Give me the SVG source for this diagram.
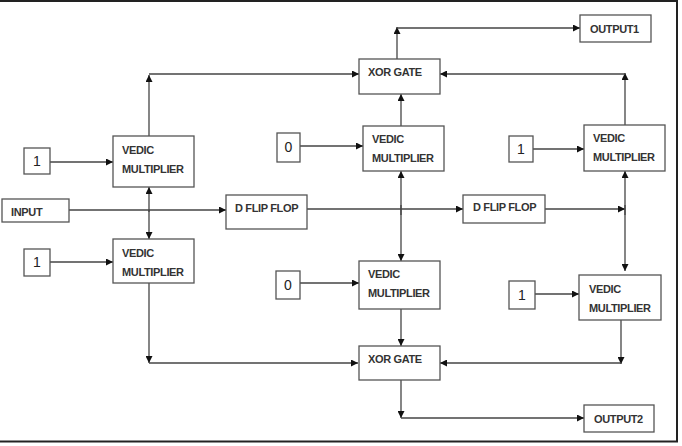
<svg xmlns="http://www.w3.org/2000/svg" width="682" height="446" viewBox="0 0 682 446">
<style>
.box{fill:#fff;stroke:#555;stroke-width:1.3}
.lbl{font-family:"Liberation Sans",Arial,sans-serif;font-weight:bold;font-size:11px;fill:#333;letter-spacing:-0.35px}
.num{font-family:"Liberation Sans",Arial,sans-serif;font-size:14px;fill:#222;text-anchor:middle}
.wire{fill:none;stroke:#444;stroke-width:1.3}
</style>
<defs>
<marker id="ah" viewBox="0 0 10 10" refX="10" refY="5" markerWidth="7" markerHeight="7" markerUnits="userSpaceOnUse" orient="auto">
<path d="M0,0 L10,5 L0,10 z" fill="#111"/>
</marker>
</defs>
<rect width="682" height="446" fill="#fff"/>
<path d="M0,1 H677 V441.5 H0" fill="none" stroke="#222" stroke-width="2"/>
<g id="connectors">
<path class="wire" d="M50,162 H113" marker-end="url(#ah)"/>
<path class="wire" d="M50,262 H113" marker-end="url(#ah)"/>
<path class="wire" d="M69,210 H226" marker-end="url(#ah)"/>
<path class="wire" d="M149,136 V75" marker-end="url(#ah)"/>
<path class="wire" d="M149,74 H359" marker-end="url(#ah)"/>
<path class="wire" d="M149,212 V187" marker-end="url(#ah)"/>
<path class="wire" d="M149,210 V239" marker-end="url(#ah)"/>
<path class="wire" d="M149,283 V363" marker-end="url(#ah)"/>
<path class="wire" d="M149,363 H358" marker-end="url(#ah)"/>
<path class="wire" d="M300,146 H363" marker-end="url(#ah)"/>
<path class="wire" d="M300,283 H359" marker-end="url(#ah)"/>
<path class="wire" d="M401,126 V94" marker-end="url(#ah)"/>
<path class="wire" d="M397,59 V27" marker-end="url(#ah)"/>
<path class="wire" d="M397,28 H580" marker-end="url(#ah)"/>
<path class="wire" d="M401,215 V171" marker-end="url(#ah)"/>
<path class="wire" d="M401,205 V261" marker-end="url(#ah)"/>
<path class="wire" d="M307,209 H463" marker-end="url(#ah)"/>
<path class="wire" d="M401,309 V346" marker-end="url(#ah)"/>
<path class="wire" d="M401,380 V418" marker-end="url(#ah)"/>
<path class="wire" d="M401,418 H584" marker-end="url(#ah)"/>
<path class="wire" d="M533,149 H584" marker-end="url(#ah)"/>
<path class="wire" d="M535,294 H579" marker-end="url(#ah)"/>
<path class="wire" d="M545,209 H625" marker-end="url(#ah)"/>
<path class="wire" d="M625,125 V73" marker-end="url(#ah)"/>
<path class="wire" d="M625,74 H440" marker-end="url(#ah)"/>
<path class="wire" d="M625,215 V171" marker-end="url(#ah)"/>
<path class="wire" d="M625,205 V271" marker-end="url(#ah)"/>
<path class="wire" d="M621,320 V364" marker-end="url(#ah)"/>
<path class="wire" d="M621,363 H440" marker-end="url(#ah)"/>
</g>
<g id="one1"><rect class="box" x="24" y="148" width="26" height="26"/><text class="num" x="37" y="166">1</text></g>
<g id="one2"><rect class="box" x="24" y="249" width="26" height="27"/><text class="num" x="37" y="267">1</text></g>
<g id="input"><rect class="box" x="2" y="199" width="67" height="23"/><text class="lbl" x="11" y="216">INPUT</text></g>
<g id="vm1"><rect class="box" x="113" y="136" width="81" height="51"/><text class="lbl" x="122" y="154">VEDIC</text><text class="lbl" x="122" y="173">MULTIPLIER</text></g>
<g id="vm2"><rect class="box" x="113" y="239" width="81" height="44"/><text class="lbl" x="122" y="257">VEDIC</text><text class="lbl" x="122" y="276">MULTIPLIER</text></g>
<g id="dff1"><rect class="box" x="226" y="195" width="81" height="34"/><text class="lbl" x="235" y="212">D FLIP FLOP</text></g>
<g id="zero1"><rect class="box" x="277" y="133" width="23" height="29"/><text class="num" x="288.5" y="152">0</text></g>
<g id="zero2"><rect class="box" x="276" y="271" width="24" height="28"/><text class="num" x="288" y="290">0</text></g>
<g id="xor1"><rect class="box" x="359" y="59" width="81" height="35"/><text class="lbl" x="368" y="76">XOR GATE</text></g>
<g id="vm3"><rect class="box" x="363" y="126" width="81" height="45"/><text class="lbl" x="372" y="143">VEDIC</text><text class="lbl" x="372" y="162">MULTIPLIER</text></g>
<g id="vm4"><rect class="box" x="359" y="261" width="81" height="48"/><text class="lbl" x="368" y="278">VEDIC</text><text class="lbl" x="368" y="297">MULTIPLIER</text></g>
<g id="xor2"><rect class="box" x="359" y="346" width="81" height="34"/><text class="lbl" x="368" y="363">XOR GATE</text></g>
<g id="dff2"><rect class="box" x="463" y="195" width="82" height="28"/><text class="lbl" x="473" y="211">D FLIP FLOP</text></g>
<g id="one3"><rect class="box" x="509" y="136" width="24" height="26"/><text class="num" x="521" y="154">1</text></g>
<g id="one4"><rect class="box" x="509" y="281" width="26" height="28"/><text class="num" x="522" y="300">1</text></g>
<g id="vm5"><rect class="box" x="584" y="125" width="81" height="46"/><text class="lbl" x="593" y="142">VEDIC</text><text class="lbl" x="593" y="161">MULTIPLIER</text></g>
<g id="vm6"><rect class="box" x="579" y="275" width="82" height="45"/><text class="lbl" x="589" y="293">VEDIC</text><text class="lbl" x="589" y="312">MULTIPLIER</text></g>
<g id="out1"><rect class="box" x="580" y="15" width="71" height="27"/><text class="lbl" x="590" y="33">OUTPUT1</text></g>
<g id="out2"><rect class="box" x="584" y="405" width="70" height="27"/><text class="lbl" x="594" y="423">OUTPUT2</text></g>
</svg>
